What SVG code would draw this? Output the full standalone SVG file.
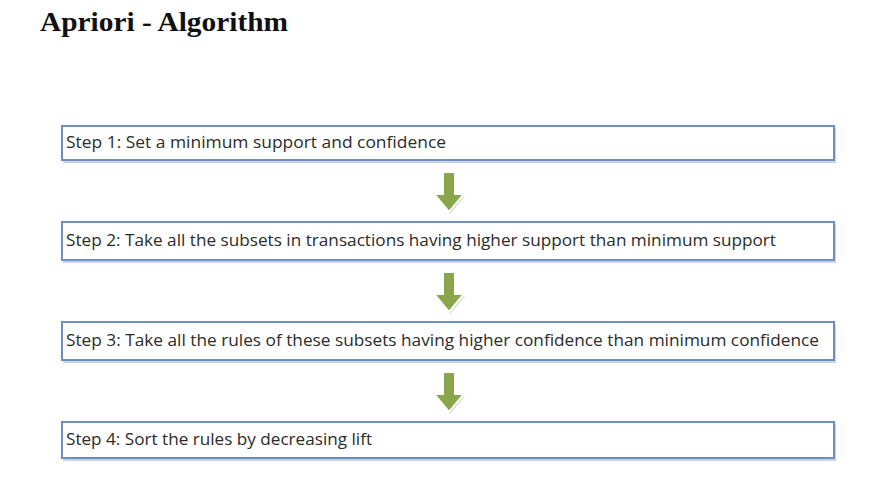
<svg xmlns="http://www.w3.org/2000/svg" width="888" height="503" viewBox="0 0 888 503">
<defs>
<style>
.box{fill:#ffffff;stroke:#6f8fc0;stroke-width:2}
.shadow{fill:#c9d3e3}
.lbl{font-family:"Open Sans","DejaVu Sans",sans-serif;font-size:15.5px;fill:#2b2b2b}
.title{font-family:"Liberation Serif","DejaVu Serif",serif;font-weight:bold;font-size:28px;fill:#111}
.arr{fill:#8aa64a;stroke:#ffffff;stroke-width:2}
.arrs{fill:#d4d9cc}
</style>
<g id="arrowshape">
<path d="M-6,0 H6 V22 H15 L0,40 L-15,22 H-6 Z"/>
</g>
</defs>
<rect width="888" height="503" fill="#ffffff"/>
<text class="title" x="40" y="31" textLength="248" lengthAdjust="spacingAndGlyphs">Apriori - Algorithm</text>

<g id="connectors">
<use href="#arrowshape" x="450" y="174" class="arrs"/>
<use href="#arrowshape" x="449" y="172" class="arr"/>
<use href="#arrowshape" x="450" y="274" class="arrs"/>
<use href="#arrowshape" x="449" y="272" class="arr"/>
<use href="#arrowshape" x="450" y="374" class="arrs"/>
<use href="#arrowshape" x="449" y="372" class="arr"/>
</g>

<g id="step1">
<rect class="shadow" x="63" y="128" width="773" height="35"/>
<rect class="box" x="62" y="126" width="772" height="34"/>
<text class="lbl" x="66" y="148" textLength="380" lengthAdjust="spacingAndGlyphs">Step 1: Set a minimum support and confidence</text>
</g>
<g id="step2">
<rect class="shadow" x="63" y="224" width="773" height="39"/>
<rect class="box" x="62" y="222" width="772" height="38"/>
<text class="lbl" x="66" y="246" textLength="710" lengthAdjust="spacingAndGlyphs">Step 2: Take all the subsets in transactions having higher support than minimum support</text>
</g>
<g id="step3">
<rect class="shadow" x="63" y="324" width="773" height="39"/>
<rect class="box" x="62" y="322" width="772" height="38"/>
<text class="lbl" x="66" y="346" textLength="753" lengthAdjust="spacingAndGlyphs">Step 3: Take all the rules of these subsets having higher confidence than minimum confidence</text>
</g>
<g id="step4">
<rect class="shadow" x="63" y="424" width="773" height="37"/>
<rect class="box" x="62" y="422" width="772" height="36"/>
<text class="lbl" x="66" y="445" textLength="306" lengthAdjust="spacingAndGlyphs">Step 4: Sort the rules by decreasing lift</text>
</g>
</svg>
